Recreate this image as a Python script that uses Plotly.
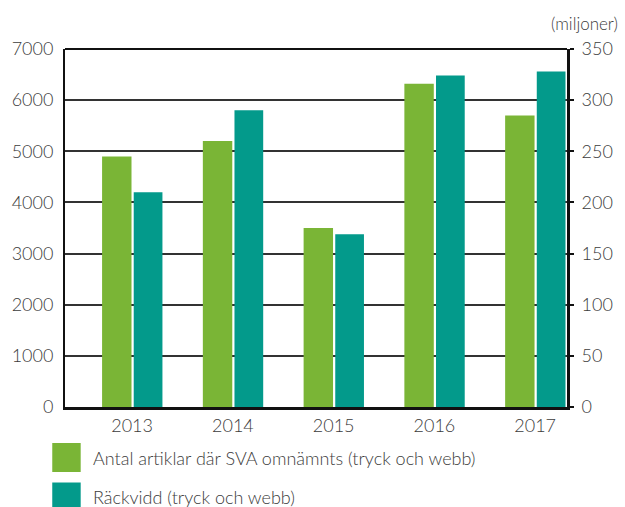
import plotly.graph_objects as go

years = ["2013", "2014", "2015", "2016", "2017"]
articles = [4900, 5200, 3500, 6320, 5700]
reach_millions = [210, 290, 169, 324, 328]
series_names = ["Antal artiklar där SVA omnämnts (tryck och webb)", "Räckvidd (tryck och webb)"]
left_ticks = [0, 1000, 2000, 3000, 4000, 5000, 6000, 7000]
right_ticks = [0, 50, 100, 150, 200, 250, 300, 350]

GREEN = "#7ab536"
TEAL = "#039a8b"
FONT = "Lato"
TXT = "#3c3c3c"
FS = 18

xpos = list(range(len(years)))

fig = go.Figure()
fig.add_trace(go.Bar(x=xpos, y=articles, name=series_names[0], marker=dict(color=GREEN, line=dict(width=0)),
                     width=0.292, offset=-0.298, yaxis="y", showlegend=False))
fig.add_trace(go.Bar(x=xpos, y=reach_millions, name=series_names[1], marker=dict(color=TEAL, line=dict(width=0)),
                     width=0.285, offset=0.016, yaxis="y2", showlegend=False))

tf = dict(family=FONT, size=FS, color=TXT, weight=300)
fig.update_layout(
    width=625, height=507,
    margin=dict(l=60, r=53, t=49, b=100),
    paper_bgcolor="white", plot_bgcolor="white",
    font=tf,
    xaxis=dict(range=[-0.666, 4.316], tickvals=xpos, ticktext=years, showgrid=False, zeroline=False,
               showline=True, linecolor="#111", linewidth=3, ticks="", ticklabelstandoff=0, tickfont=tf),
    yaxis=dict(range=[0, 7000], tickvals=left_ticks, showgrid=True, gridcolor="#333", gridwidth=1.5,
               zeroline=False, showline=True, linecolor="#111", linewidth=2, ticks="",
               tickfont=tf, ticklabelstandoff=6),
    yaxis2=dict(range=[0, 350], tickvals=right_ticks, overlaying="y", side="right", showgrid=False,
                zeroline=False, showline=True, linecolor="#111", linewidth=3, ticks="outside", ticklen=4,
                tickcolor="#111", tickwidth=1.5, tickfont=tf, ticklabelstandoff=4),
)

# Top frame line
fig.add_shape(type="line", xref="paper", yref="paper", x0=0, x1=1, y0=1, y1=1, line=dict(color="#111", width=2))

# Unit label
fig.add_annotation(text="(miljoner)", xref="paper", yref="paper", x=(625 - 60) / 512, y=(407 - 23) / 358,
                   xanchor="right", yanchor="middle", showarrow=False, borderpad=0,
                   font=dict(family=FONT, size=17, color=TXT, weight=300))

# Custom legend
colors = [GREEN, TEAL]
legend_y = [457.5, 497]
for name, col, yc in zip(series_names, colors, legend_y):
    fig.add_shape(type="rect", xref="paper", yref="paper",
                  x0=(47 - 60) / 512, x1=(76 - 60) / 512,
                  y0=(407 - (yc - 14.5)) / 358, y1=(407 - (yc + 14.5)) / 358,
                  fillcolor=col, line=dict(width=0))
    fig.add_annotation(text=name, xref="paper", yref="paper", x=(88 - 60) / 512, y=(407 - yc) / 358,
                       xanchor="left", yanchor="middle", showarrow=False, borderpad=0,
                       font=dict(family=FONT, size=FS, color=TXT, weight=300))

fig.write_html("out.html", config={"displayModeBar": False},
               post_script="document.body.style.margin='0';document.body.style.overflow='hidden';")
